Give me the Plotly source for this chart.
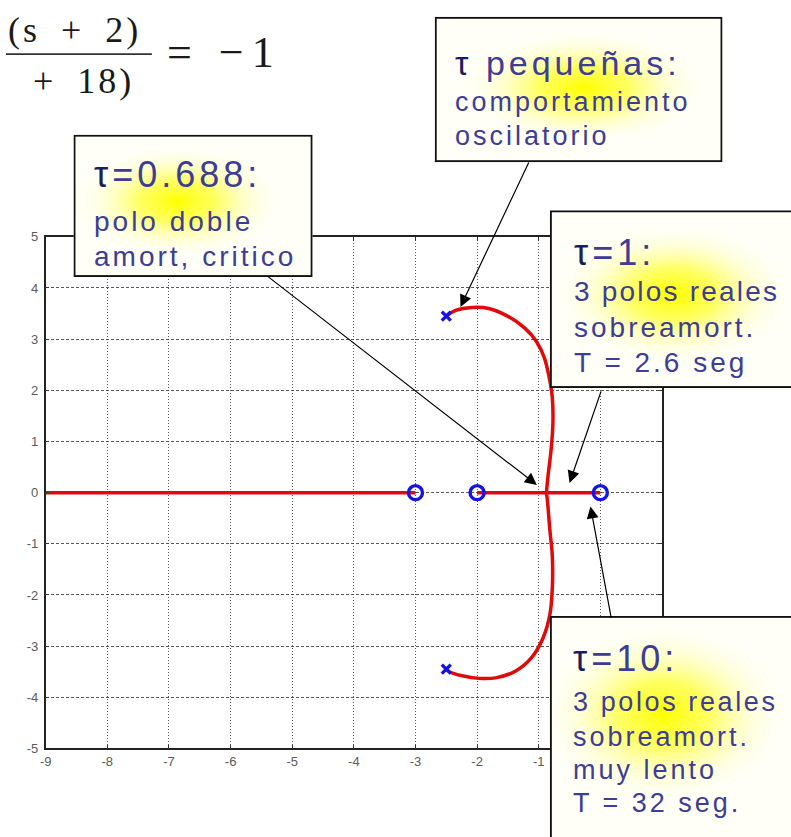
import base64
import plotly.graph_objects as go

FIG_W, FIG_H = 791, 837

# Open-loop zeros and poles (tau plane)
zero_re = [-3.0, -2.0, 0.0]
zero_im = [0.0, 0.0, 0.0]
pole_re = [-2.5, -2.5]
pole_im = [3.45, -3.45]

# Real-axis portions of the locus
axis_left_re = [-9.0, -3.0]
axis_left_im = [0.0, 0.0]
axis_right_re = [-2.0, 0.0]
axis_right_im = [0.0, 0.0]

# Complex branches, from each pole to the break-in point
upper_re = [-2.5, -2.35, -2.08, -1.81, -1.49, -1.23, -1.04, -0.91, -0.83, -0.78, -0.77, -0.80, -0.85, -0.875]
upper_im = [3.45, 3.56, 3.62, 3.60, 3.44, 3.22, 2.96, 2.64, 2.25, 1.86, 1.35, 0.83, 0.32, 0.0]
lower_re = [-2.5, -2.45, -2.24, -1.97, -1.70, -1.38, -1.12, -0.93, -0.82, -0.78, -0.78, -0.82, -0.86, -0.875]
lower_im = [-3.45, -3.50, -3.58, -3.63, -3.62, -3.49, -3.23, -2.84, -2.39, -1.88, -1.23, -0.72, -0.14, 0.0]

# Tick labels (the ones at 0 and 1 sit under the lower callout)
x_tick_vals = [-9, -8, -7, -6, -5, -4, -3, -2, -1, 0, 1]
x_tick_text = ["-9", "-8", "-7", "-6", "-5", "-4", "-3", "-2", "-1", "", ""]
y_tick_vals = [-5, -4, -3, -2, -1, 0, 1, 2, 3, 4, 5]
y_tick_text = ["-5", "-4", "-3", "-2", "-1", "0", "1", "2", "3", "4", "5"]


def fx(px):
    return px / FIG_W


def fy(py):
    return 1 - py / FIG_H


RED = "#e00a0a"
BLUE = "#1414e6"

fig = go.Figure()
for xs, ys in [(axis_left_re, axis_left_im), (axis_right_re, axis_right_im)]:
    fig.add_trace(go.Scatter(x=xs, y=ys, mode="lines",
                             line=dict(color=RED, width=3.5), hoverinfo="skip"))
for xs, ys in [(upper_re, upper_im), (lower_re, lower_im)]:
    fig.add_trace(go.Scatter(x=xs, y=ys, mode="lines",
                             line=dict(color=RED, width=3.5, shape="spline", smoothing=1.0),
                             hoverinfo="skip"))
fig.add_trace(go.Scatter(x=zero_re, y=zero_im, mode="markers",
                         marker=dict(symbol="circle-open", size=14, color=BLUE,
                                     line=dict(color=BLUE, width=3.4)),
                         hoverinfo="skip"))
fig.add_trace(go.Scatter(x=pole_re, y=pole_im, mode="markers",
                         marker=dict(symbol="x-thin-open", size=9, color=BLUE,
                                     line=dict(color=BLUE, width=3.4)),
                         hoverinfo="skip"))

axis_common = dict(
    showline=True, linecolor="#222222", linewidth=1.5, mirror="allticks",
    ticks="inside", ticklen=4, tickcolor="#333333",
    showgrid=True, gridcolor="rgba(60,60,60,0.85)", gridwidth=1,
    zeroline=False, tickfont=dict(family="Liberation Sans", size=13, color="#5a5a5a"),
    fixedrange=True,
)
fig.update_xaxes(range=[-9, 1], domain=[fx(40), fx(661)], tickvals=x_tick_vals,
                 ticktext=x_tick_text, griddash="1px,2px", **axis_common)
fig.update_yaxes(range=[-5, 5], domain=[fy(755), fy(234)], tickvals=y_tick_vals,
                 ticktext=y_tick_text, griddash="3px,2px", ticklabelstandoff=3, **axis_common)


def box_source(w, h, cx, cy, rx, ry):
    svg = (
        f'<svg xmlns="http://www.w3.org/2000/svg" width="{w}" height="{h}" '
        f'viewBox="0 0 {w} {h}" preserveAspectRatio="none">'
        '<defs><radialGradient id="g">'
        '<stop offset="0" stop-color="#ffff00" stop-opacity="1"/>'
        '<stop offset="0.35" stop-color="#ffff30" stop-opacity="0.75"/>'
        '<stop offset="0.7" stop-color="#ffffa0" stop-opacity="0.3"/>'
        '<stop offset="1" stop-color="#ffffff" stop-opacity="0"/>'
        '</radialGradient></defs>'
        f'<rect x="0" y="0" width="{w}" height="{h}" fill="#fffff8"/>'
        f'<ellipse cx="{cx}" cy="{cy}" rx="{rx}" ry="{ry}" fill="url(#g)"/>'
        f'<rect x="1" y="1" width="{w - 2}" height="{h - 2}" fill="none" '
        'stroke="#111111" stroke-width="2"/></svg>'
    )
    return "data:image/svg+xml;base64," + base64.b64encode(svg.encode()).decode()


# Callout boxes: left, top, width, height, glow centre and radii (pixels)
boxes = [
    (432, 10, 290, 148, 150, 72, 130, 60),
    (68, 130, 241, 145, 105, 68, 110, 60),
    (548, 207, 260, 181, 125, 86, 125, 75),
    (548, 620, 260, 240, 115, 100, 130, 95),
]
images = []
for left, top, w, h, cx, cy, rx, ry in boxes:
    images.append(dict(source=box_source(w, h, cx, cy, rx, ry), xref="paper", yref="paper",
                       x=fx(left), y=fy(top), sizex=w / FIG_W, sizey=h / FIG_H,
                       sizing="stretch", xanchor="left", yanchor="top", layer="above"))

TXT = "#3d3d96"
TAU = "#1c1c5c"


def big(label):
    return (f'<span style="letter-spacing:4px"><span style="color:{TAU}">τ</span>'
            f'{label}</span>')


def small(label, ls=3.0):
    return f'<span style="letter-spacing:{ls}px">{label}</span>'


# (text, left px, centre-y px, font size)
lines = [
    (big(" pequeñas:"), 450, 57, 34),
    (small("comportamiento"), 450, 97, 27),
    (small("oscilatorio"), 450, 131, 27),
    (big("=0.688:"), 87, 171, 36),
    (small("polo doble"), 87, 218, 28),
    (small("amort, critico"), 87, 254, 28),
    (big("=1:"), 570, 250, 36),
    (small("3 polos reales", 2.2), 570, 290, 28),
    (small("sobreamort."), 570, 326, 28),
    (small("T = 2.6 seg"), 570, 362, 28),
    (big("=10:"), 569, 663, 36),
    (small("3 polos reales", 2.6), 569, 708, 27),
    (small("sobreamort."), 569, 743, 27),
    (small("muy lento"), 569, 777, 27),
    (small("T = 32 seg."), 569, 811, 27),
]
annotations = []
for text, left, cy, size in lines:
    annotations.append(dict(text=text, xref="paper", yref="paper", x=fx(left), y=fy(cy),
                            xanchor="left", yanchor="middle", showarrow=False,
                            font=dict(family="Liberation Sans", size=size, color=TXT)))

# Arrows: tip in data coordinates, tail offset in pixels
arrows = [
    (-2.27, 3.63, 69, -146),
    (-1.03, 0.15, -271, -210),
    (-0.50, 0.19, 32, -93),
    (-0.16, -0.27, 21, 113),
]
for tx, ty, dx, dy in arrows:
    annotations.append(dict(text="", x=tx, y=ty, xref="x", yref="y", ax=dx, ay=dy,
                            showarrow=True, arrowhead=2, arrowsize=2.0, arrowwidth=1.2,
                            arrowcolor="#000000", standoff=0))

# Characteristic equation fragment
EQ = dict(family="Liberation Serif", color="#1a1a1a")
annotations += [
    dict(text='<span style="letter-spacing:3px">(s\u2002+\u20022)</span>', xref="paper",
         yref="paper", x=fx(0), y=fy(23), xanchor="left", yanchor="middle",
         showarrow=False, font=dict(size=36, **EQ)),
    dict(text='<span style="letter-spacing:3px">+\u200218)</span>', xref="paper",
         yref="paper", x=fx(131), y=fy(75), xanchor="right", yanchor="middle",
         showarrow=False, font=dict(size=36, **EQ)),
    dict(text='<span style="letter-spacing:8px">= −1</span>', xref="paper",
         yref="paper", x=fx(160), y=fy(46), xanchor="left", yanchor="middle",
         showarrow=False, font=dict(size=44, **EQ)),
]
shapes = [dict(type="line", xref="paper", yref="paper", x0=fx(0), x1=fx(147),
               y0=fy(48), y1=fy(48), line=dict(color="#333333", width=1.6))]

fig.update_layout(
    width=FIG_W, height=FIG_H, autosize=False,
    margin=dict(l=0, r=0, t=0, b=0),
    paper_bgcolor="white", plot_bgcolor="white",
    showlegend=False, images=images, annotations=annotations, shapes=shapes,
)

fig.write_html("out.html", config={"displayModeBar": False})
